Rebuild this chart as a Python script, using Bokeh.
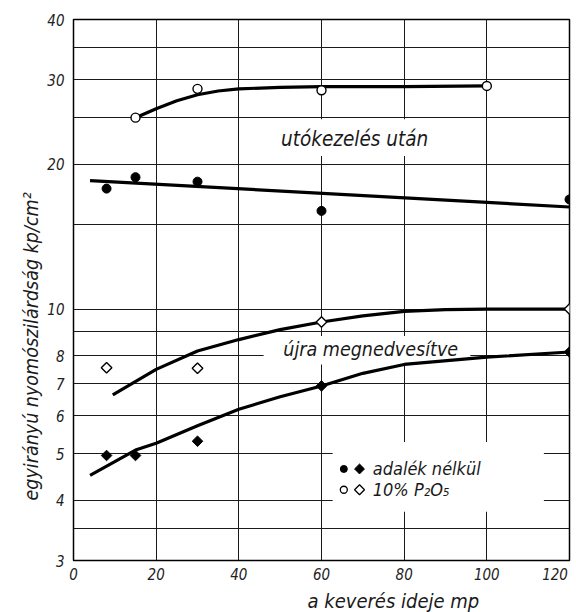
import math
from bokeh.plotting import figure
from bokeh.models import FixedTicker, CustomJSTickFormatter, Label, Title
from bokeh.embed import file_html
from bokeh.resources import INLINE

FONT = "DejaVu Sans Condensed, DejaVu Sans"

# ---------------- data ----------------
x_ticks = [0, 20, 40, 60, 80, 100, 120]
y_ticks = [3, 4, 5, 6, 7, 8, 10, 20, 30, 40]
y_grid = [3, 3.5, 4, 5, 6, 7, 8, 9, 10, 15, 20, 25, 30, 35, 40]

# 10% P2O5, after post-treatment (open circles)
p2o5_after_x = [15, 30, 60, 100]
p2o5_after_y = [25.0, 28.7, 28.5, 29.1]
p2o5_after_curve_x = [15, 20, 25, 30, 35, 40, 50, 60, 80, 100]
p2o5_after_curve_y = [25.0, 26.1, 27.1, 27.9, 28.4, 28.7, 28.9, 29.0, 29.0, 29.1]

# no additive, after post-treatment (filled circles)
plain_after_x = [8, 15, 30, 60, 120]
plain_after_y = [17.8, 18.8, 18.4, 16.0, 16.9]
plain_after_fit_x = [4, 120]
plain_after_fit_y = [18.5, 16.3]

# 10% P2O5, re-wetted (open diamonds)
p2o5_rewet_x = [8, 30, 60, 120]
p2o5_rewet_y = [7.55, 7.53, 9.40, 10.0]
p2o5_rewet_curve_x = [9.5, 20, 30, 40, 50, 60, 70, 80, 90, 100, 120]
p2o5_rewet_curve_y = [6.63, 7.49, 8.18, 8.64, 9.06, 9.40, 9.68, 9.89, 9.97, 10.0, 10.0]

# no additive, re-wetted (filled diamonds)
plain_rewet_x = [8, 15, 30, 60, 120]
plain_rewet_y = [4.96, 4.96, 5.31, 6.92, 8.14]
plain_rewet_curve_x = [4, 15, 20, 30, 40, 50, 60, 70, 80, 100, 120]
plain_rewet_curve_y = [4.51, 5.09, 5.26, 5.72, 6.19, 6.57, 6.92, 7.35, 7.67, 7.94, 8.14]

# ---------------- figure ----------------
p = figure(width=576, height=612, x_range=(0, 120), y_range=(3, 40),
           y_axis_type="log", output_backend="svg", toolbar_location=None,
           min_border_left=73, min_border_right=7, min_border_top=19,
           min_border_bottom=48, background_fill_color="white",
           border_fill_color="white")

p.outline_line_color = "black"
p.outline_line_width = 1.5

p.xgrid.ticker = FixedTicker(ticks=x_ticks)
p.ygrid.ticker = FixedTicker(ticks=y_grid)
for g in (p.xgrid, p.ygrid):
    g.grid_line_color = "#1a1a1a"
    g.grid_line_width = 1

p.xaxis.ticker = FixedTicker(ticks=x_ticks)
p.yaxis.ticker = FixedTicker(ticks=y_ticks)
p.xaxis.formatter = CustomJSTickFormatter(
    code="return tick == 120 ? '120\u2007' : String(tick);")
p.yaxis.formatter = CustomJSTickFormatter(code="return String(tick);")
for ax in (p.xaxis, p.yaxis):
    ax.axis_line_color = None
    ax.major_tick_out = 0
    ax.major_tick_in = 0
    ax.minor_tick_out = 0
    ax.minor_tick_in = 0
    ax.major_label_text_font = FONT
    ax.major_label_text_font_style = "italic"
    ax.major_label_text_font_size = "15px"
    ax.major_label_text_color = "#222222"
p.xaxis.major_label_standoff = 5
p.yaxis.major_label_standoff = 9

# axis titles as side titles
p.add_layout(Title(text="egyirányú nyomószilárdság kp/cm²", align="left", offset=60,
                   standoff=4, text_font=FONT, text_font_style="italic",
                   text_font_size="19.5px", text_color="#1a1a1a"), "left")
p.add_layout(Title(text="a keverés ideje mp", align="left", offset=234, standoff=0,
                   text_font=FONT, text_font_style="italic", text_font_size="20px",
                   text_color="#1a1a1a"), "below")

# white gaps behind the in-plot texts
p.quad(left=[47, 46, 62.7], right=[90, 96, 113.8],
       bottom=[20.8, 7.67, 3.79], top=[24.8, 8.79, 5.29],
       fill_color="white", line_color=None)

# curves
LW = 3.2
p.line(p2o5_after_curve_x, p2o5_after_curve_y, line_color="black", line_width=LW)
p.line(plain_after_fit_x, plain_after_fit_y, line_color="black", line_width=LW)
p.line(p2o5_rewet_curve_x, p2o5_rewet_curve_y, line_color="black", line_width=LW)
p.line(plain_rewet_curve_x, plain_rewet_curve_y, line_color="black", line_width=LW)

# points
p.scatter(p2o5_after_x, p2o5_after_y, marker="circle", size=9,
          fill_color="white", line_color="black", line_width=1.4)
p.scatter(plain_after_x, plain_after_y, marker="circle", size=9,
          fill_color="black", line_color="black")
p.scatter(p2o5_rewet_x, p2o5_rewet_y, marker="square", angle=math.pi / 4, size=7.5,
          fill_color="white", line_color="black", line_width=1.4)
p.scatter(plain_rewet_x, plain_rewet_y, marker="square", angle=math.pi / 4, size=7.5,
          fill_color="black", line_color="black")

# legend (drawn by hand: two symbols side by side per entry)
LEG_SYM_X1, LEG_SYM_X2, LEG_TXT_X = 65.4, 69.2, 72.4
LEG_Y1, LEG_Y2 = 4.65, 4.21
p.scatter([LEG_SYM_X1], [LEG_Y1], marker="circle", size=7, fill_color="black", line_color="black")
p.scatter([LEG_SYM_X2], [LEG_Y1], marker="square", angle=math.pi / 4, size=7,
          fill_color="black", line_color="black")
p.scatter([LEG_SYM_X1], [LEG_Y2], marker="circle", size=7, fill_color="white",
          line_color="black", line_width=1.3)
p.scatter([LEG_SYM_X2], [LEG_Y2], marker="square", angle=math.pi / 4, size=7,
          fill_color="white", line_color="black", line_width=1.3)

def lab(x, y, text, size, align="left"):
    p.add_layout(Label(x=x, y=y, text=text, text_align=align, text_baseline="middle",
                       text_font=FONT, text_font_style="italic", text_font_size=size,
                       text_color="#1a1a1a"))

lab(LEG_TXT_X, LEG_Y1, "adalék nélkül", "18px")
lab(LEG_TXT_X, LEG_Y2, "10% P₂O₅", "18px")

lab(68, 22.6, "utókezelés után", "20.5px", align="center")
lab(71.9, 8.23, "újra megnedvesítve", "19.5px", align="center")

open("out.html", "w").write(file_html(p, INLINE))
